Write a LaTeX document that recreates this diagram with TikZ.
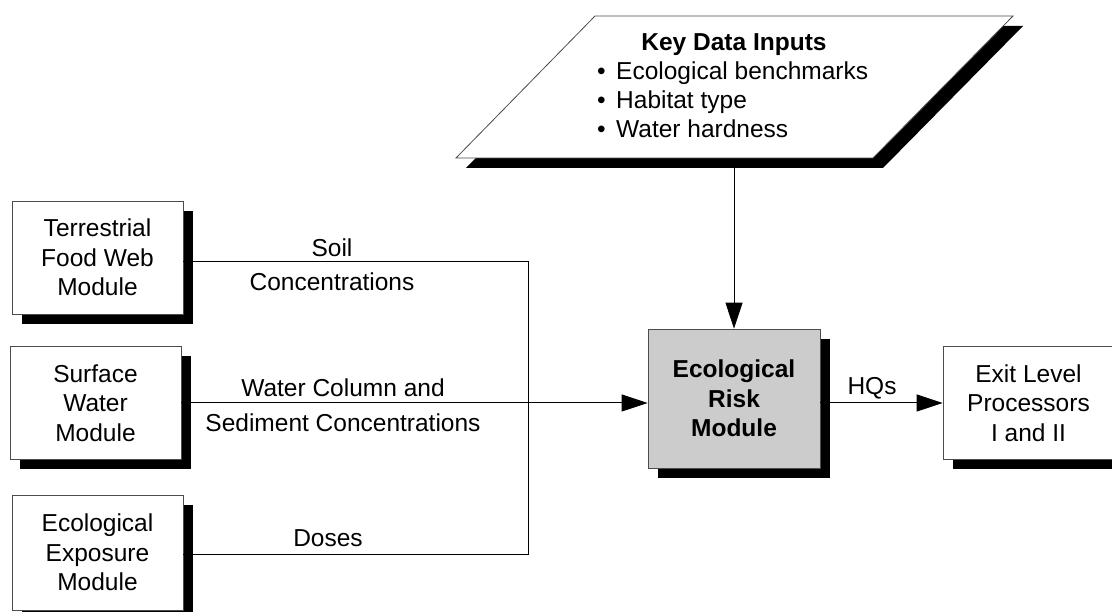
\documentclass[tikz,border=0pt]{standalone}
\usepackage{fontspec}
\setmainfont{Liberation Sans}
\usetikzlibrary{arrows.meta,shadows}

\tikzset{
  module/.style={draw=black!70, line width=0.8pt, fill=white,
    minimum width=171pt, minimum height=113pt, align=center, inner sep=2pt,
    general shadow={shadow xshift=10pt, shadow yshift=-10pt, fill=black}},
  riskbox/.style={module, fill=black!20, minimum width=172pt, minimum height=139pt,
    font=\fontsize{24.5}{29.5}\selectfont\bfseries},
  lbl/.style={inner sep=0pt, font=\fontsize{24.5}{29.5}\selectfont},
  flow/.style={line width=1pt},
  arr/.style={flow, -{Triangle[length=26pt, width=17pt]}},
  outline/.style={draw=black!70, line width=0.8pt, fill=white}
}

\begin{document}
\begin{tikzpicture}[x=1pt, y=1pt, font=\fontsize{24.5}{29.5}\selectfont]
\useasboundingbox (0,0) rectangle (1112,612);

% source modules on the left
\node[module] (terr) at (97.5,354.5) {Terrestrial\\Food Web\\Module};
\node[module] (surf) at (95.5,209) {Surface\\Water\\Module};
\node[module, minimum height=115pt] (expo) at (97.5,59.5) {Ecological\\Exposure\\Module};

% central module and the exit processors
\node[riskbox] (erm) at (734,213.5) {Ecological\\Risk\\Module};
\node[module] (exit) at (1028.5,209) {Exit Level\\Processors\\I and II};

% key data inputs: slanted data box with its shadow
\coordinate (p1) at (595,596);
\coordinate (p2) at (1013,596);
\coordinate (p3) at (873,454);
\coordinate (p4) at (456,454);
\fill[black] ([shift={(10,-10)}]p1) -- ([shift={(10,-10)}]p2)
  -- ([shift={(10,-10)}]p3) -- ([shift={(10,-10)}]p4) -- cycle;
\draw[outline] (p1) -- (p2) -- (p3) -- (p4) -- cycle;

\node[lbl, anchor=base, font=\fontsize{24.5}{29.5}\selectfont\bfseries] (kdititle) at (734,561) {Key Data Inputs};
\node[lbl, anchor=base west] (kdia) at (597,532) {\makebox[19pt][l]{•}Ecological benchmarks};
\node[lbl, anchor=base west] (kdib) at (597,503) {\makebox[19pt][l]{•}Habitat type};
\node[lbl, anchor=base west] (kdic) at (597,474) {\makebox[19pt][l]{•}Water hardness};

\coordinate (kdiout) at (734,444);
\draw[arr] (kdiout) -- (erm.north);

% collecting bus for the module outputs
\coordinate (bustop) at (528,350);
\coordinate (busbot) at (528,57);
\draw[flow] (terr.east |- bustop) -- (bustop) -- (busbot) -- (expo.east |- busbot);
\draw[arr] (surf.east) -- (surf.east -| erm.west);
\draw[arr] (erm.east |- exit.west) -- (exit.west);

% connector labels
\node[lbl] (soil) at (332,364) {Soil};
\node[lbl] (soilc) at (332,330) {Concentrations};
\node[lbl] (water) at (343,224) {Water Column and};
\node[lbl] (sed) at (343,189) {Sediment Concentrations};
\node[lbl] (doses) at (328,74) {Doses};
\node[lbl] (hqs) at (872,224) {HQs};
\end{tikzpicture}
\end{document}
